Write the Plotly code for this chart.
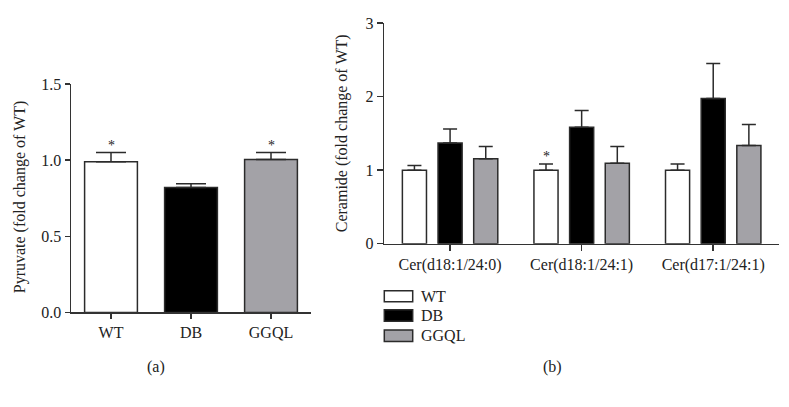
import plotly.graph_objects as go

# ---------------- data ----------------
groups_a = ["WT", "DB", "GGQL"]
pyruvate_mean = [0.99, 0.82, 1.005]
pyruvate_err = [0.06, 0.025, 0.045]
pyruvate_sig = ["*", "", "*"]

ceramides = ["Cer(d18:1/24:0)", "Cer(d18:1/24:1)", "Cer(d17:1/24:1)"]
series_names = ["WT", "DB", "GGQL"]
cer_wt = [1.0, 1.0, 1.0]
cer_wt_err = [0.065, 0.085, 0.085]
cer_db = [1.37, 1.585, 1.975]
cer_db_err = [0.19, 0.225, 0.475]
cer_ggql = [1.155, 1.095, 1.335]
cer_ggql_err = [0.165, 0.225, 0.285]
cer_wt_sig = ["", "*", ""]

colors = {"WT": "#ffffff", "DB": "#000000", "GGQL": "#a3a2a7"}
EDGE = "#2b2b2b"
FONT = "Liberation Serif, Times New Roman, serif"

W, H = 789, 407
def px(x):
    return x / W
def py(y):
    return 1 - y / H

fig = go.Figure()

# ---------------- panel (a) ----------------
fig.add_trace(go.Bar(
    x=groups_a, y=pyruvate_mean, width=0.66,
    marker=dict(color=[colors[g] for g in groups_a], line=dict(color=EDGE, width=1.5)),
    error_y=dict(type="data", array=pyruvate_err, arrayminus=[0] * 3, symmetric=False,
                 color=EDGE, thickness=1.5, width=15),
    xaxis="x", yaxis="y", showlegend=False,
))

# ---------------- panel (b) ----------------
for name, vals, errs in [("WT", cer_wt, cer_wt_err), ("DB", cer_db, cer_db_err),
                         ("GGQL", cer_ggql, cer_ggql_err)]:
    fig.add_trace(go.Bar(
        x=ceramides, y=vals, name=name,
        marker=dict(color=colors[name], line=dict(color=EDGE, width=1.5)),
        error_y=dict(type="data", array=errs, arrayminus=[0] * 3, symmetric=False,
                     color=EDGE, thickness=1.5, width=7),
        xaxis="x2", yaxis="y2", showlegend=False,
    ))

axis_common = dict(showline=True, linecolor="#333333", linewidth=1.5, ticks="outside",
                   tickcolor="#333333", tickwidth=1.5, showgrid=False, zeroline=False,
                   tickfont=dict(family=FONT, size=16, color="#222222"), fixedrange=True)

fig.update_layout(
    width=W, height=H, autosize=False,
    margin=dict(l=0, r=0, t=0, b=0),
    paper_bgcolor="white", plot_bgcolor="white",
    barmode="group", bargap=0.187, bargroupgap=0.324,
    font=dict(family=FONT, size=16, color="#222222"),
    hovermode=False,
    xaxis=dict(domain=[px(71), px(311)], range=[-0.5, 2.5], ticklen=5, anchor="y", **axis_common),
    yaxis=dict(domain=[py(317.7), py(79.3)], range=[0, 1.5], tickvals=[0, 0.5, 1.0, 1.5],
               ticktext=["0.0", "0.5", "1.0", "1.5"], ticklen=5, anchor="x", **axis_common),
    xaxis2=dict(domain=[px(384.3), px(779)], range=[-0.5, 2.5], ticklen=6, anchor="y2", **axis_common),
    yaxis2=dict(domain=[py(246), py(15.7)], range=[0, 3], tickvals=[0, 1, 2, 3],
                ticklen=6, anchor="x2", **axis_common),
)

def paper_text(text, x, y, xanchor="center", angle=0, size=16):
    return dict(text=text, x=px(x), y=py(y), xref="paper", yref="paper", xanchor=xanchor,
                yanchor="middle", textangle=angle, showarrow=False, font=dict(size=size))

ann = []
# axis titles
ann.append(paper_text("Pyruvate (fold change of WT)", 20, 197.5, angle=-90))
ann.append(paper_text("Ceramide (fold change of WT)", 341.7, 131, angle=-90))
# panel labels
ann.append(paper_text("(a)", 156, 375))
ann.append(paper_text("(b)", 552, 375))
# significance stars
for g, m, e, s in zip(groups_a, pyruvate_mean, pyruvate_err, pyruvate_sig):
    if s:
        ann.append(dict(text=s, x=g, y=m + e, xref="x", yref="y", xanchor="center", yanchor="bottom",
                        showarrow=False, yshift=-2, font=dict(size=14)))
group_offset = (1 - 0.187) / 3
for i, (m, e, s) in enumerate(zip(cer_wt, cer_wt_err, cer_wt_sig)):
    if s:
        ann.append(dict(text=s, x=i - group_offset, y=m + e, xref="x2", yref="y2", xanchor="center",
                        yanchor="bottom", showarrow=False, yshift=-2, font=dict(size=14)))

# legend (boxes + labels)
shapes = []
box_y = [(295, 306.5), (315, 327), (336, 348)]
for name, (y0, y1) in zip(series_names, box_y):
    shapes.append(dict(type="rect", xref="paper", yref="paper", x0=px(384.3), x1=px(412.7),
                       y0=py(y1), y1=py(y0), fillcolor=colors[name], line=dict(color=EDGE, width=1.5)))
    ann.append(paper_text(name, 418.7, (y0 + y1) / 2, xanchor="left"))

fig.update_layout(annotations=ann, shapes=shapes)
fig.write_html("out.html", config={"displayModeBar": False, "staticPlot": True},
               post_script="document.body.style.margin='0';document.body.style.overflow='hidden';")
